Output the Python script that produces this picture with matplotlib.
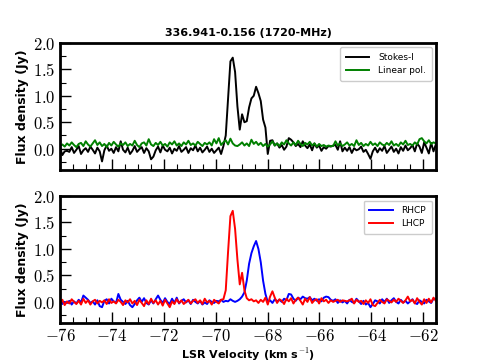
import numpy as np
import matplotlib
matplotlib.use("Agg")
import matplotlib.pyplot as plt
from matplotlib.ticker import MultipleLocator, FuncFormatter

plt.rcParams['mathtext.fontset'] = 'cm'

title = "336.941-0.156 (1720-MHz)"
v_start = -76.0
dv = 0.09

stokes_i = [
    0.02, -0.12, -0.05, -0.04, -0.06, 0.03, -0.08, -0.02, 0.05, -0.10,
    -0.03, 0.01, -0.06, 0.04, -0.02, -0.09, 0.02, -0.05, -0.24, -0.03,
    0.06, -0.04, 0.00, -0.08, 0.03, -0.05, 0.14, -0.02, -0.07, 0.02,
    -0.10, -0.04, 0.05, -0.06, -0.01, 0.03, -0.08, 0.01, -0.05, -0.20,
    -0.15, -0.03, 0.04, -0.07, 0.06, -0.02, -0.05, 0.02, -0.09, 0.00,
    -0.04, 0.05, -0.06, -0.02, 0.03, -0.08, 0.01, -0.03, 0.06, -0.05,
    0.02, -0.07, -0.02, 0.04, -0.06, 0.00, -0.08, -0.03, 0.02, -0.10,
    0.05, 0.25, 0.95, 1.65, 1.72, 1.45, 0.80, 0.36, 0.65, 0.50,
    0.52, 0.78, 0.95, 1.00, 1.17, 1.05, 0.90, 0.55, 0.40, -0.10,
    0.15, 0.16, 0.06, 0.10, 0.02, 0.07, -0.02, 0.04, 0.20, 0.17,
    0.12, 0.05, 0.09, 0.03, 0.14, 0.06, 0.01, 0.08, -0.03, 0.10,
    0.02, 0.06, -0.04, 0.03, 0.00, 0.05, 0.04, 0.06, 0.07, -0.02,
    0.14, -0.05, 0.02, -0.04, 0.03, -0.08, 0.01, -0.03, -0.01, 0.04,
    -0.06, -0.02, -0.10, -0.19, -0.05, 0.02, -0.07, 0.01, -0.04, 0.05,
    -0.08, -0.02, 0.04, -0.06, 0.00, -0.09, 0.03, -0.04, 0.06, -0.03,
    0.01, 0.07, -0.05, 0.10, 0.04, -0.08, 0.12, 0.02, -0.09, 0.11,
    -0.05, 0.08,
]

linear_pol = [
    0.05, 0.08, 0.04, 0.10, 0.06, 0.12, 0.07, 0.03, 0.09, 0.11,
    0.05, 0.14, 0.08, 0.04, 0.10, 0.16, 0.07, 0.12, 0.05, 0.09,
    0.03, 0.11, 0.06, 0.13, 0.08, 0.04, 0.10, 0.07, 0.12, 0.05,
    0.09, 0.06, 0.15, 0.07, 0.03, 0.10, 0.12, 0.06, 0.18, 0.08,
    0.05, 0.11, 0.07, 0.13, 0.06, 0.09, 0.04, 0.12, 0.08, 0.14,
    0.06, 0.10, 0.05, 0.12, 0.08, 0.15, 0.07, 0.10, 0.06, 0.13,
    0.09, 0.05, 0.11, 0.08, 0.12, 0.06, 0.18, 0.10, 0.20, 0.07,
    0.12, 0.16, 0.08, 0.19, 0.10, 0.06, 0.05, 0.08, 0.12, 0.06,
    0.10, 0.05, 0.17, 0.09, 0.13, 0.07, 0.11, 0.05, 0.09, 0.04,
    0.08, 0.14, 0.06, 0.10, 0.05, 0.12, 0.08, 0.16, 0.10, 0.06,
    0.12, 0.07, 0.15, 0.09, 0.05, 0.11, 0.08, 0.13, 0.06, 0.10,
    0.04, 0.09, 0.05, 0.07, 0.04, 0.06, 0.05, 0.05, 0.14, 0.06,
    0.10, 0.05, 0.08, 0.12, 0.06, 0.09, 0.05, 0.16, 0.07, 0.11,
    0.05, 0.09, 0.06, 0.13, 0.07, 0.10, 0.05, 0.12, 0.08, 0.06,
    0.11, 0.07, 0.14, 0.06, 0.09, 0.05, 0.12, 0.08, 0.15, 0.07,
    0.09, 0.06, 0.12, 0.08, 0.18, 0.20, 0.14, 0.10, 0.16, 0.09,
    0.12, 0.10,
]

lhcp = [
    -0.02, 0.04, -0.06, 0.01, -0.03, 0.05, 0.00, -0.04, 0.02, -0.05,
    0.06, -0.02, 0.03, -0.05, 0.01, 0.04, -0.03, 0.02, -0.01, 0.03,
    -0.04, 0.05, -0.02, 0.01, -0.03, 0.04, 0.00, -0.06, 0.03, -0.01,
    0.05, -0.03, 0.02, -0.06, 0.04, -0.02, -0.08, 0.03, -0.04, 0.06,
    -0.02, 0.03, -0.05, 0.02, -0.07, 0.04, -0.03, -0.10, 0.01, -0.04,
    0.05, -0.02, 0.03, -0.04, 0.00, 0.04, -0.03, 0.02, 0.05, -0.02,
    0.03, -0.04, 0.06, -0.01, 0.02, -0.05, 0.04, 0.00, -0.03, 0.04,
    0.05, 0.22, 0.95, 1.62, 1.72, 1.38, 0.80, 0.33, 0.55, 0.22,
    0.07, 0.03, 0.05, 0.01, 0.03, -0.02, 0.04, 0.00, 0.08, -0.05,
    0.10, 0.20, 0.08, -0.02, 0.05, 0.02, -0.04, 0.06, 0.01, 0.07,
    -0.03, 0.04, 0.08, 0.02, -0.05, 0.06, 0.00, 0.09, -0.02, 0.03,
    0.05, -0.03, 0.07, 0.01, 0.04, -0.02, 0.03, 0.00, 0.02, 0.04,
    0.00, 0.03, 0.02, 0.01, 0.03, 0.06, -0.03, 0.04, 0.00, 0.02,
    -0.04, 0.03, -0.02, 0.05, -0.06, -0.08, -0.02, 0.04, 0.00, -0.03,
    0.05, 0.02, -0.01, 0.04, 0.00, 0.06, 0.02, -0.02, 0.03, 0.10,
    0.01, 0.04, -0.03, 0.07, 0.00, -0.05, 0.05, -0.02, 0.06, -0.01,
    0.08, 0.02,
]

rhcp = [
    0.03, -0.04, 0.00, -0.02, 0.02, -0.05, 0.01, -0.03, 0.04, -0.01,
    0.12, 0.08, 0.04, -0.02, 0.01, -0.05, 0.03, -0.08, -0.10, 0.02,
    0.05, -0.03, 0.06, 0.01, -0.02, 0.15, 0.04, 0.00, -0.04, 0.02,
    -0.06, -0.10, -0.04, 0.03, 0.08, 0.00, 0.07, -0.02, -0.05, 0.03,
    -0.03, 0.05, 0.12, 0.04, -0.02, 0.07, 0.00, -0.04, 0.06, -0.02,
    0.08, -0.03, 0.02, 0.05, -0.01, 0.03, -0.04, 0.04, 0.00, -0.03,
    0.02, -0.05, -0.01, -0.04, 0.03, 0.00, -0.02, 0.02, 0.01, 0.04,
    0.00, 0.02, 0.01, 0.05, 0.02, 0.00, 0.02, 0.05, 0.10, 0.18,
    0.40, 0.72, 0.92, 1.05, 1.15, 1.00, 0.75, 0.40, 0.15, 0.00,
    0.03, -0.02, 0.05, 0.01, 0.04, 0.00, 0.06, 0.03, 0.15, 0.14,
    0.06, 0.02, 0.08, 0.05, 0.10, 0.07, 0.06, 0.09, 0.03, 0.06,
    0.02, 0.05, 0.01, 0.08, 0.10, 0.09, 0.04, 0.02, 0.05, -0.02,
    0.03, -0.01, 0.02, -0.03, 0.04, 0.00, -0.02, 0.06, 0.01, -0.04,
    0.02, -0.05, -0.02, -0.10, -0.04, 0.03, 0.01, -0.03, 0.05, 0.00,
    0.06, -0.02, 0.03, 0.07, 0.00, -0.03, 0.04, -0.01, 0.02, -0.03,
    0.01, 0.05, -0.02, -0.04, 0.03, 0.00, -0.03, 0.04, 0.01, -0.02,
    0.06, 0.05,
]

def vel(arr):
    return v_start + dv * np.arange(len(arr))

fig = plt.figure(figsize=(4.84, 3.63), dpi=100)
ax1 = fig.add_axes([0.124, 0.532, 0.777, 0.350])
ax2 = fig.add_axes([0.124, 0.110, 0.777, 0.350])

ax1.plot(vel(stokes_i), stokes_i, color='black', lw=1.4, label='Stokes-I')
ax1.plot(vel(linear_pol), linear_pol, color='green', lw=1.4, label='Linear pol.')
ax2.plot(vel(rhcp), rhcp, color='blue', lw=1.4, label='RHCP')
ax2.plot(vel(lhcp), lhcp, color='red', lw=1.4, label='LHCP')

fmt = FuncFormatter(lambda x, pos: r'$\mathbf{%.1f}$' % x)
fmtx = FuncFormatter(lambda x, pos: r'$\mathbf{%d}$' % round(x))

for ax in (ax1, ax2):
    ax.set_xlim(-76, -61.5)
    ax.set_ylim(-0.4, 2.0)
    ax.xaxis.set_major_locator(MultipleLocator(2))
    ax.xaxis.set_minor_locator(MultipleLocator(0.5))
    ax.yaxis.set_major_locator(MultipleLocator(0.5))
    ax.yaxis.set_minor_locator(MultipleLocator(0.25))
    ax.tick_params(which='major', direction='in', length=8, width=1.0, labelsize=12, pad=3)
    ax.tick_params(which='minor', direction='in', length=4, width=0.8)
    ax.yaxis.set_major_formatter(fmt)
    ax.xaxis.set_major_formatter(fmtx)
    for s in ax.spines.values():
        s.set_linewidth(2)
    ax.set_ylabel('Flux density (Jy)', fontsize=9, fontweight='bold', labelpad=3)
    ax.legend(loc='upper right', fontsize=6.5, fancybox=True, framealpha=1,
              handlelength=2.6, borderpad=0.6, handletextpad=1.0)

ax1.tick_params(labelbottom=False)
ax1.set_title(title, fontsize=8, fontweight='bold', pad=5)
ax2.set_xlabel(r'LSR Velocity (km s$^{\mathbf{-1}}$)', fontsize=8, fontweight='bold', labelpad=1)

fig.savefig('out.png', dpi=100)
